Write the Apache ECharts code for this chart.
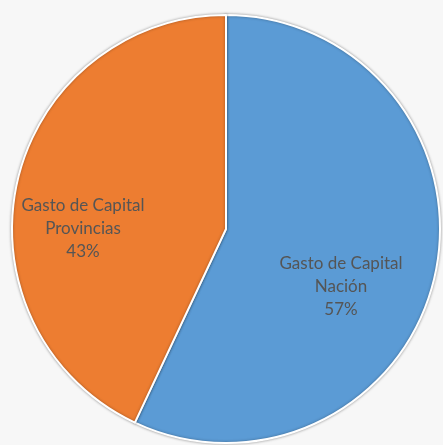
<!DOCTYPE html>
<html>
<head>
<meta charset="utf-8">
<script src="https://cdn.jsdelivr.net/npm/echarts@6/dist/echarts.min.js"></script>
<style>
  html, body { margin: 0; padding: 0; background: #f7f7f7; }
  #chart { width: 443px; height: 445px; }
</style>
</head>
<body>
<div id="chart"></div>
<script>
// datos del gráfico
const categories = ['Gasto de Capital\nNación', 'Gasto de Capital\nProvincias']
const values = [57, 43]
const colors = ['#5b9bd5', '#ed7d31']

// posiciones de las etiquetas (como en el original)
const labelSpots = [[341, 287], [83, 229]]

const chart = echarts.init(document.getElementById('chart'))
chart.setOption({
  backgroundColor: '#f7f7f7',
  animation: false,
  series: [{
    type: 'pie',
    center: [226, 229],
    radius: 214,
    startAngle: 90,
    clockwise: true,
    percentPrecision: 0,
    itemStyle: {
      borderColor: '#ffffff',
      borderWidth: 2,
      shadowBlur: 3,
      shadowColor: 'rgba(0,0,0,0.35)'
    },
    label: {
      position: 'inside',
      formatter: '{b}\n{d}%',
      color: '#555555',
      fontFamily: 'Lato',
      fontSize: 17,
      lineHeight: 23,
      align: 'center'
    },
    labelLine: { show: false },
    labelLayout: function (params) {
      const p = labelSpots[params.dataIndex]
      return { x: p[0], y: p[1], align: 'center', verticalAlign: 'middle' }
    },
    data: categories.map(function (name, i) {
      return { name: name, value: values[i], itemStyle: { color: colors[i] } }
    })
  }]
})
</script>
</body>
</html>
